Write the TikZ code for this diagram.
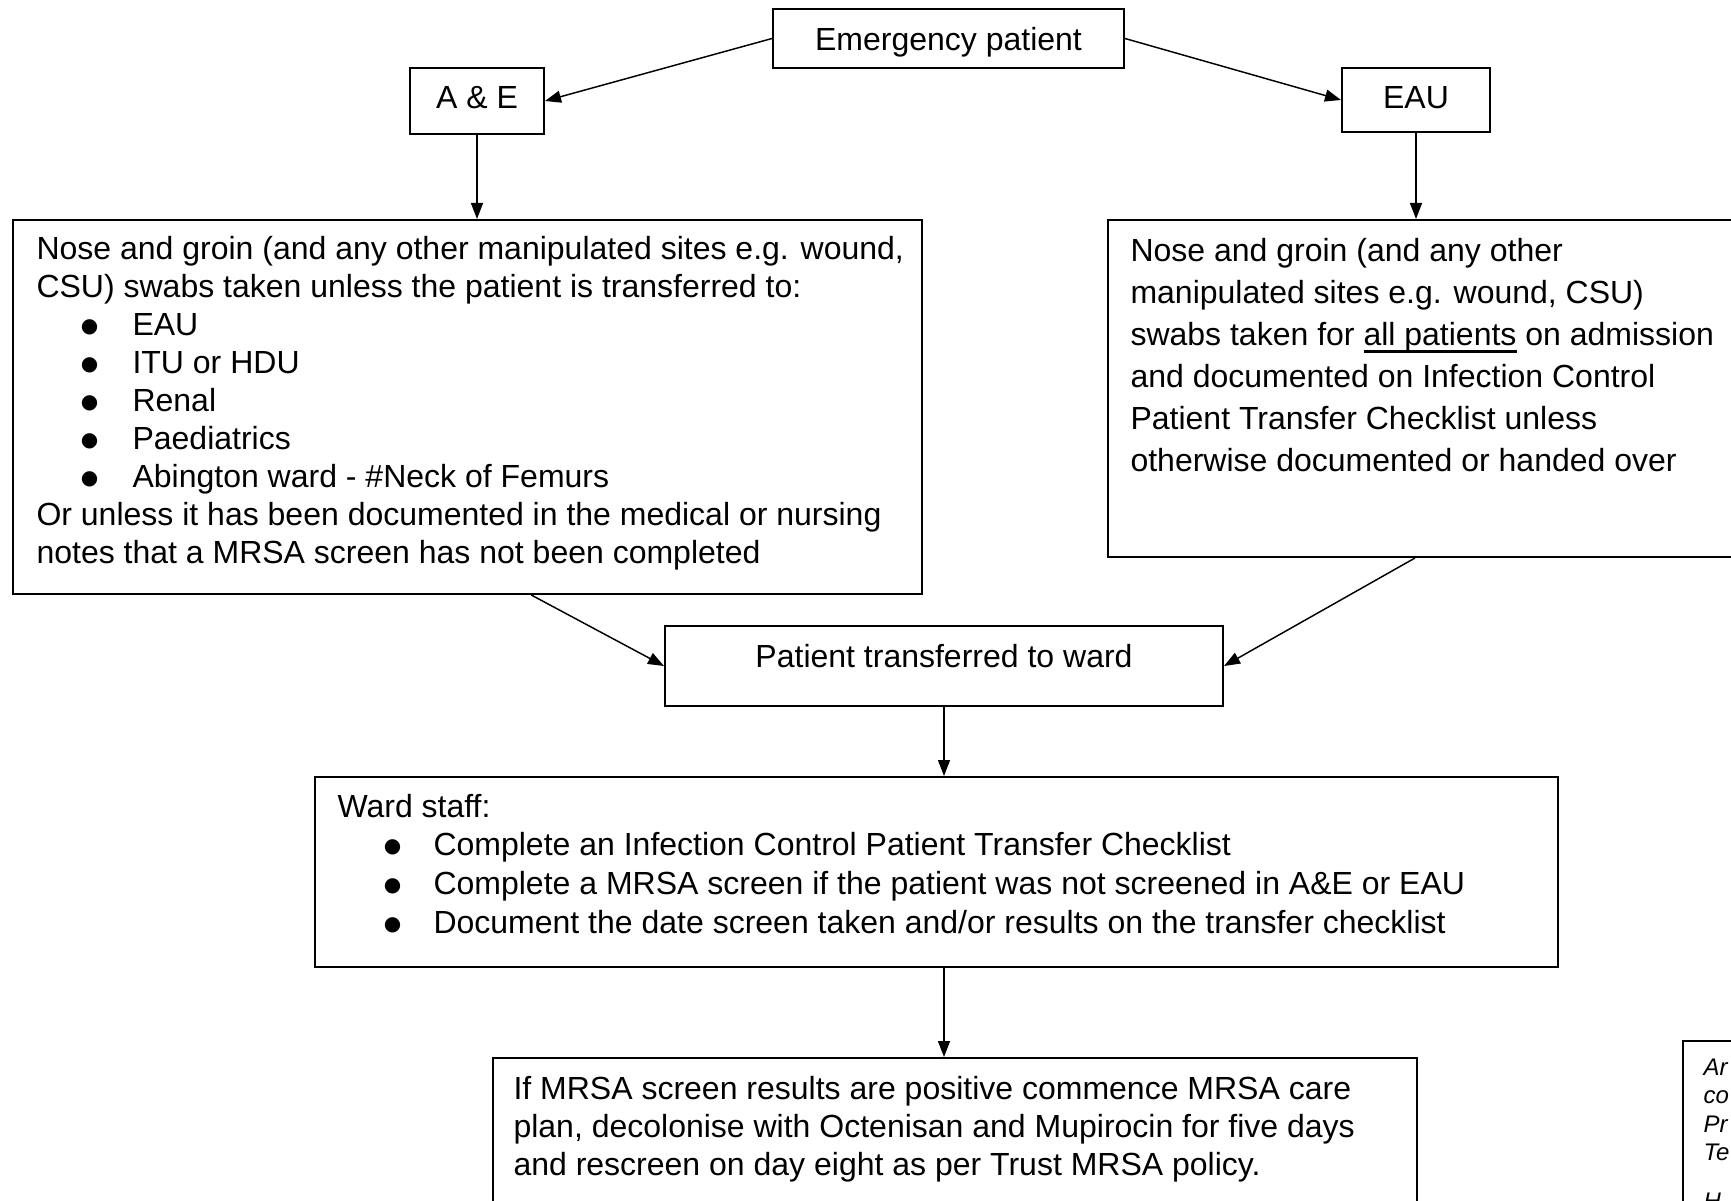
\documentclass[tikz,border=0pt]{standalone}
\usepackage{fontspec}
\setmainfont{Liberation Sans}
\newfontfamily\symfont{DejaVu Sans}
\usetikzlibrary{arrows.meta,fit,calc}
\newcommand\myul[1]{\setbox0\hbox{#1}\rlap{\rule[-2.5pt]{\wd0}{0.9pt}}\box0\relax}
\newcommand\bul[1]{\hspace*{#1}\makebox[\dimexpr36pt-#1\relax][l]{\raisebox{1.3pt}{\symfont\fontsize{7.5}{8}\selectfont ●}}}
\begin{document}
\begin{tikzpicture}[x=0.375pt,y=-0.375pt,
  box/.style={draw,line width=0.75pt,inner sep=0pt},
  txt/.style={inner sep=0pt,font=\fontsize{12}{13.8}\selectfont},
  arr/.style={-{Triangle[length=6pt,width=4.5pt]},line width=0.55pt}]
\fill[white] (0,0) rectangle (1731,1201);
\useasboundingbox (0,0) rectangle (1731,1201);
% boxes
\node[box,fit={(773,9) (1124,68)}] (em) {};
\node[box,fit={(410,68) (544,134)}] (ae) {};
\node[box,fit={(1342,68) (1490,132)}] (eau) {};
\node[box,fit={(13,220) (922,594)}] (lbox) {};
\node[box,fit={(1108,220) (1760,557)}] (rbox) {};
\node[box,fit={(665,626) (1223,706)}] (pt) {};
\node[box,fit={(315,777) (1558,967)}] (ward) {};
\node[box,fit={(493,1058) (1417,1230)}] (bot) {};
\node[box,fit={(1683,1041) (1760,1230)}] (note) {};
% texts
\node[txt,anchor=base] (emt) at (948.5,51) {Emergency patient};
\node[txt,anchor=base] (aet) at (477,109) {A \& E};
\node[txt,anchor=base] (eaut) at (1416,109) {EAU};
\node[txt,anchor=base west] (lt) at (36,260) {\fontsize{12}{14.25}\selectfont
\begin{tabular}[t]{@{}l@{}}
Nose and groin (and any other manipulated sites e.g. wound,\\
CSU) swabs taken unless the patient is transferred to:\\
\bul{16.6pt}EAU\\
\bul{16.6pt}ITU or HDU\\
\bul{16.6pt}Renal\\
\bul{16.6pt}Paediatrics\\
\bul{16.6pt}Abington ward - \#Neck of Femurs\\
Or unless it has been documented in the medical or nursing\\
notes that a MRSA screen has not been completed
\end{tabular}};
\node[txt,anchor=base west] (rt) at (1130,262) {\fontsize{12}{15.75}\selectfont
\begin{tabular}[t]{@{}l@{}}
Nose and groin (and any other\\
manipulated sites e.g. wound, CSU)\\
swabs taken for \myul{all patients} on admission\\
and documented on Infection Control\\
Patient Transfer Checklist unless\\
otherwise documented or handed over
\end{tabular}};
\node[txt,anchor=base] (ptt) at (944,667) {Patient transferred to ward};
\node[txt,anchor=base west] (wt) at (337,817) {\fontsize{12}{14.6}\selectfont
\begin{tabular}[t]{@{}l@{}}
Ward staff:\\
\bul{17.4pt}Complete an Infection Control Patient Transfer Checklist\\
\bul{17.4pt}Complete a MRSA screen if the patient was not screened in A\&E or EAU\\
\bul{17.4pt}Document the date screen taken and/or results on the transfer checklist
\end{tabular}};
\node[txt,anchor=base west] (bt) at (513,1099) {\fontsize{12}{14.25}\selectfont
\begin{tabular}[t]{@{}l@{}}
If MRSA screen results are positive commence MRSA care\\
plan, decolonise with Octenisan and Mupirocin for five days\\
and rescreen on day eight as per Trust MRSA policy.
\end{tabular}};
\node[txt,anchor=base west] (nt) at (1703,1075) {\fontsize{9}{10.7}\selectfont\itshape
\begin{tabular}[t]{@{}l@{}}
Ar\\ co\\ Pr\\ Te\\[7.7pt] H
\end{tabular}};
% connectors
\draw[arr] (em.west) -- (ae.east);
\draw[arr] (em.east) -- (eau.west);
\draw[arr] (ae.south) -- (ae.south |- lbox.north);
\draw[arr] (eau.south) -- (eau.south |- rbox.north);
\draw[arr] ($(lbox.south west)!0.57!(lbox.south east)$) -- (pt.west);
\draw[arr] ($(rbox.south west)!0.4709!(rbox.south east)$) -- (pt.east);
\draw[arr] (pt.south) -- (pt.south |- ward.north);
\draw[arr] (pt.south |- ward.south) -- (pt.south |- bot.north);
\end{tikzpicture}
\end{document}
